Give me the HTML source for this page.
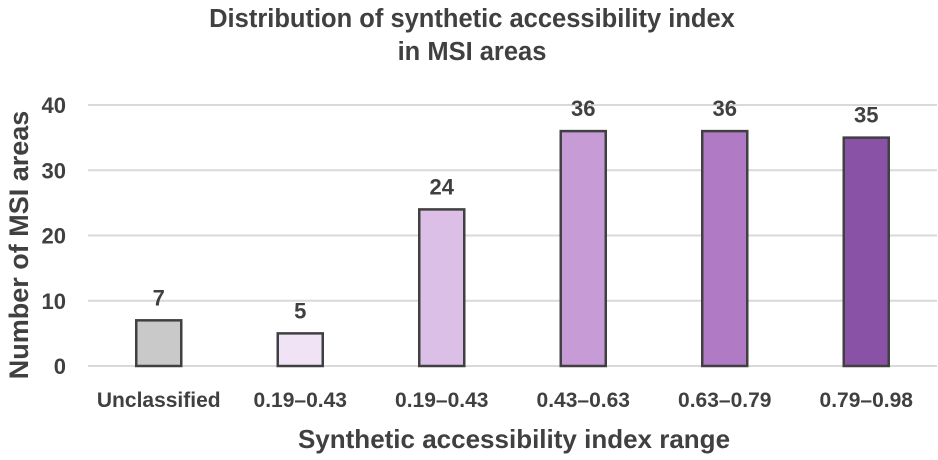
<!DOCTYPE html>
<html><head><meta charset="utf-8"><style>
body{margin:0;background:#fff}
svg text{font-family:"Liberation Sans",sans-serif;font-weight:bold;fill:#404040}
</style></head><body>
<svg width="938" height="455">
<text x="472" y="27" font-size="25.5" text-anchor="middle">Distribution of synthetic accessibility index</text>
<text x="472" y="60" font-size="25.5" text-anchor="middle">in MSI areas</text>
<text transform="translate(28,245) rotate(-90)" font-size="27" text-anchor="middle">Number of MSI areas</text>
<text x="514" y="448" font-size="26" text-anchor="middle">Synthetic accessibility index range</text>
<g id="grid"></g><g id="bars"></g>
</svg>
<script>
const categories=["Unclassified","0.19–0.43","0.19–0.43","0.43–0.63","0.63–0.79","0.79–0.98"];
const values=[7,5,24,36,36,35];
const colors=["#c9c9c9","#f0e3f6","#dbbfe7","#c79bd6","#b07bc4","#8a52a7"];
const ticks=[0,10,20,30,40];
const NS="http://www.w3.org/2000/svg";
const x0=88,x1=937,y0=366,yTop=105,ymax=40;
const y=v=>y0-(y0-yTop)*v/ymax;
const bw=(x1-x0)/categories.length;
const xc=i=>x0+bw*(i+0.5);
function mk(t,a,p){const e=document.createElementNS(NS,t);for(const k in a)e.setAttribute(k,a[k]);p.appendChild(e);return e;}
const g=document.getElementById('grid'),b=document.getElementById('bars');
ticks.forEach(t=>{
 const l=mk('line',{x1:x0,x2:x1,y1:y(t),y2:y(t),stroke:'#d9d9d9','stroke-width':2},g);
 
 
 const tx=mk('text',{x:66,y:y(t)+8,'font-size':22,'text-anchor':'end'},g);tx.textContent=t;
 
 
});
categories.forEach((c,i)=>{
 const v=values[i];
 const r=mk('rect',{x:xc(i)-22.5,y:y(v),width:45,height:y0-y(v),fill:colors[i],stroke:'#404040','stroke-width':2.5},b);
 
 
 const lb=mk('text',{x:xc(i),y:y(v)-15,'font-size':22,'text-anchor':'middle'},b);lb.textContent=v;
 
 
 const cl=mk('text',{x:xc(i),y:407,'font-size':21,'text-anchor':'middle'},b);cl.textContent=c;
 
 
});
</script>
</body></html>
